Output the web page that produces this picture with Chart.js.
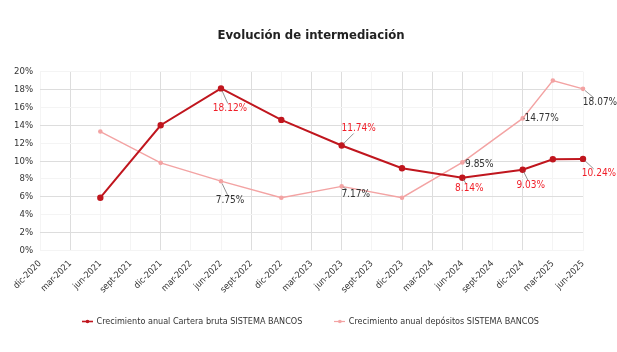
<!DOCTYPE html>
<html>
<head>
<meta charset="utf-8">
<script src="https://cdn.jsdelivr.net/npm/chart.js@4"></script>
<style>
  html, body { margin: 0; padding: 0; background: #fff; }
  #wrap { width: 617px; height: 352px; }
</style>
</head>
<body>
<div id="wrap"><canvas id="grafico" width="617" height="352"></canvas></div>
<script>
const categorias = ['dic-2020', 'mar-2021', 'jun-2021', 'sept-2021', 'dic-2021', 'mar-2022', 'jun-2022',
  'sept-2022', 'dic-2022', 'mar-2023', 'jun-2023', 'sept-2023', 'dic-2023', 'mar-2024', 'jun-2024',
  'sept-2024', 'dic-2024', 'mar-2025', 'jun-2025'];

const carteraBruta = [null, null, 5.9, null, 14.0, null, 18.12, null, 14.6, null, 11.74, null, 9.2,
  null, 8.14, null, 9.03, 10.2, 10.24];
const depositos = [null, null, 13.3, null, 9.8, null, 7.75, null, 5.9, null, 7.17, null, 5.9,
  null, 9.85, null, 14.77, 19.0, 18.07];

// puntos que llevan etiqueta de valor
const carteraEtiquetas = [6, 10, 14, 16, 18];
const depositosEtiquetas = [6, 10, 14, 16, 18];

const ticksY = [0, 2, 4, 6, 8, 10, 12, 14, 16, 18, 20];

const FUENTE = '"DejaVu Sans Condensed", "DejaVu Sans", sans-serif';
const ROJO = '#C0161E';
const ROSA = '#F3A3A3';

// en la imagen solo se ven algunas lineas de cuadricula
const gridX = [1, 4, 7, 9, 10, 12, 13, 14, 16];
const gridY = [2, 6, 10, 14, 18];

function marcaLeyenda(color, ancho) {
  const c = document.createElement('canvas');
  c.width = 11; c.height = 5;
  const g = c.getContext('2d');
  g.strokeStyle = color;
  g.lineWidth = ancho;
  g.beginPath(); g.moveTo(0, 2.5); g.lineTo(11, 2.5); g.stroke();
  g.fillStyle = color;
  g.beginPath(); g.arc(5.5, 2.5, 1.8, 0, Math.PI * 2); g.fill();
  return c;
}

// las etiquetas giradas del eje x bajan por debajo de su caja: no recortarlas
const sinRecorte = {
  id: 'sinRecorte',
  afterLayout(chart) {
    chart.scales.x.bottom = chart.height;
  }
};

const etiquetasPlugin = {
  id: 'etiquetas',
  afterDatasetsDraw(chart, args, opts) {
    const ctx = chart.ctx;
    ctx.save();
    ctx.font = '10px ' + FUENTE;
    ctx.textAlign = 'center';
    ctx.textBaseline = 'middle';
    opts.series.forEach(s => {
      const meta = chart.getDatasetMeta(s.dataset);
      const valores = chart.data.datasets[s.dataset].data;
      s.indices.forEach(i => {
        const p = meta.data[i];
        const off = s.offsets[i];
        const texto = valores[i].toFixed(2) + '%';
        const cx = p.x + off[0];
        const cy = p.y + off[1];
        const hw = ctx.measureText(texto).width / 2 + 1;
        const hh = 5;
        const dx = cx - p.x;
        const dy = cy - p.y;
        const t = Math.min(dx ? Math.abs(hw / dx) : Infinity, dy ? Math.abs(hh / dy) : Infinity);
        if (t < 1) {
          ctx.beginPath();
          ctx.strokeStyle = '#777';
          ctx.lineWidth = 0.8;
          ctx.moveTo(p.x + dx * 0.12, p.y + dy * 0.12);
          ctx.lineTo(cx - dx * t, cy - dy * t);
          ctx.stroke();
        }
        ctx.fillStyle = s.color;
        ctx.fillText(texto, cx, cy);
      });
    });
    ctx.restore();
  }
};

new Chart(document.getElementById('grafico'), {
  type: 'line',
  data: {
    labels: categorias,
    datasets: [{
      label: 'Crecimiento anual Cartera bruta SISTEMA BANCOS',
      data: carteraBruta,
      borderColor: ROJO,
      backgroundColor: ROJO,
      borderWidth: 2,
      pointRadius: 2.2,
      spanGaps: true,
      tension: 0,
    }, {
      label: 'Crecimiento anual depósitos SISTEMA BANCOS',
      data: depositos,
      borderColor: ROSA,
      backgroundColor: ROSA,
      borderWidth: 1.4,
      pointRadius: 1.6,
      spanGaps: true,
      tension: 0,
    }],
  },
  options: {
    responsive: false,
    animation: false,
    layout: { padding: { left: 5, right: 0, top: 0, bottom: 16 } },
    plugins: {
      title: {
        display: true,
        text: 'Evolución de intermediación',
        color: '#222',
        font: { family: FUENTE, size: 13, weight: 'bold' },
        padding: { top: 28, bottom: 28 },
      },
      legend: {
        position: 'bottom',
        labels: {
          color: '#333',
          font: { family: FUENTE, size: 9 },
          usePointStyle: true,
          generateLabels(chart) {
            return chart.data.datasets.map((d, i) => ({
              text: d.label,
              fontColor: '#333',
              pointStyle: marcaLeyenda(d.borderColor, i === 0 ? 1.6 : 1.2),
              datasetIndex: i,
              lineWidth: 0,
            }));
          },
          padding: 33,
        },
      },
      tooltip: { enabled: false },
      etiquetas: {
        series: [{
          dataset: 0,
          indices: carteraEtiquetas,
          color: '#F01E28',
          offsets: { 6: [9, 20], 10: [17, -17], 14: [7, 11], 16: [8, 16], 18: [16, 15] },
        }, {
          dataset: 1,
          indices: depositosEtiquetas,
          color: '#333',
          offsets: { 6: [9, 19], 10: [14, 8], 14: [17, 2], 16: [19, 0], 18: [17, 14] },
        }],
      },
    },
    scales: {
      x: {
        offset: false,
        grid: {
          drawTicks: false,
          color: c => gridX.includes(c.index) ? '#DDDDDD' : '#F4F4F4',
        },
        border: { display: false },
        ticks: {
          color: '#333',
          font: { family: FUENTE, size: 9 },
          minRotation: 45,
          maxRotation: 45,
          autoSkip: false,
          padding: 8,
        },
        afterFit(scale) { scale.height = 33.5; },
      },
      y: {
        min: 0,
        max: 20,
        afterBuildTicks(scale) { scale.ticks = ticksY.map(v => ({ value: v })); },
        grid: {
          drawTicks: false,
          color: c => gridY.includes(c.tick.value) ? '#DDDDDD' : '#F4F4F4',
        },
        border: { display: false },
        ticks: {
          color: '#333',
          font: { family: FUENTE, size: 9.5 },
          padding: 7,
          callback: v => v + '%',
        },
        afterFit(scale) { scale.width = 35; },
      },
      derecha: {
        position: 'right',
        min: 0,
        max: 20,
        grid: { display: false },
        border: { display: false },
        ticks: { display: false },
        afterFit(scale) { scale.width = 34; },
      },
    },
  },
  plugins: [etiquetasPlugin, sinRecorte],
});
</script>
</body>
</html>
